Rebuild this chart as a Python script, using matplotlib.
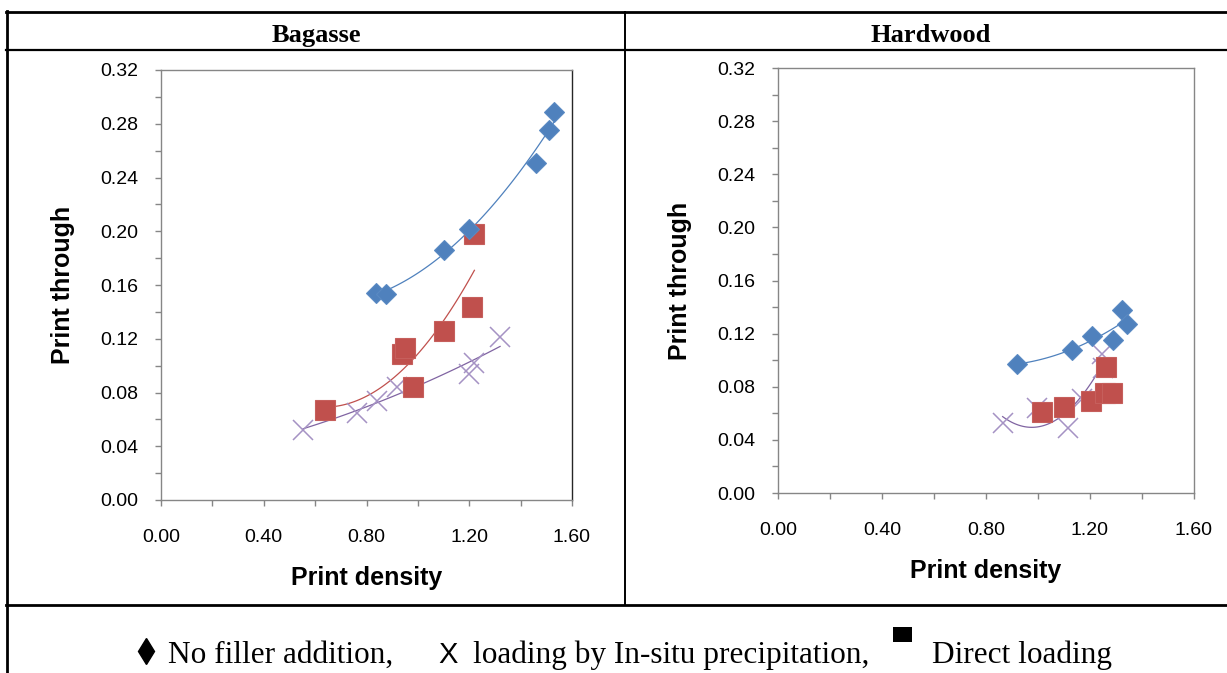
import matplotlib
matplotlib.use("Agg")
import matplotlib.pyplot as plt
from matplotlib.lines import Line2D
from matplotlib.patches import Rectangle
from matplotlib.ticker import MultipleLocator, FormatStrFormatter
import numpy as np

W, H = 1227, 673

# ---- data ----
# Bagasse
bag_none_x = [0.837, 0.875, 1.10, 1.20, 1.46, 1.51, 1.53]
bag_none_y = [0.154, 0.153, 0.186, 0.202, 0.251, 0.275, 0.289]
bag_direct_x = [0.64, 0.94, 0.95, 0.98, 1.10, 1.21, 1.22]
bag_direct_y = [0.067, 0.109, 0.113, 0.084, 0.126, 0.144, 0.198]
bag_insitu_x = [0.553, 0.763, 0.84, 0.92, 1.20, 1.22, 1.32]
bag_insitu_y = [0.052, 0.065, 0.074, 0.084, 0.094, 0.102, 0.121]

# Hardwood
hw_none_x = [0.919, 1.131, 1.208, 1.288, 1.323, 1.342]
hw_none_y = [0.097, 0.108, 0.118, 0.115, 0.138, 0.127]
hw_direct_x = [1.015, 1.10, 1.205, 1.256, 1.283, 1.263]
hw_direct_y = [0.061, 0.065, 0.069, 0.075, 0.075, 0.095]
hw_insitu_x = [0.864, 0.996, 1.115, 1.17, 1.25, 1.245]
hw_insitu_y = [0.053, 0.064, 0.049, 0.071, 0.094, 0.105]

blue = '#4F81BD'
red = '#C0504D'
purple = '#8064A2'

plt.rcParams['font.family'] = ['Liberation Sans', 'DejaVu Sans']

fig = plt.figure(figsize=(W / 100, H / 100), dpi=100)
fig.patch.set_facecolor('white')


def px_axes(x0, x1, y0, y1):
    return fig.add_axes([x0 / W, (H - y1) / H, (x1 - x0) / W, (y1 - y0) / H])


def trend(ax, x, y, color):
    c = np.polyfit(x, y, 2)
    xs = np.linspace(min(x), max(x), 100)
    ax.plot(xs, np.polyval(c, xs), color=color, lw=0.9, zorder=2)


def style(ax, right_col):
    ax.set_xlim(0, 1.6)
    ax.set_ylim(0, 0.32)
    ax.xaxis.set_major_locator(MultipleLocator(0.4))
    ax.xaxis.set_minor_locator(MultipleLocator(0.2))
    ax.yaxis.set_major_locator(MultipleLocator(0.04))
    ax.yaxis.set_minor_locator(MultipleLocator(0.02))
    ax.xaxis.set_major_formatter(FormatStrFormatter('%.2f'))
    ax.yaxis.set_major_formatter(FormatStrFormatter('%.2f'))
    for s in ['left', 'bottom', 'top']:
        ax.spines[s].set_color('#868686')
    ax.spines['right'].set_color(right_col)
    for s in ax.spines.values():
        s.set_linewidth(1.0)
    ax.tick_params(which='both', direction='out', length=4.5, width=1,
                   color='#868686', labelsize=14, top=False, right=False)
    ax.tick_params(axis='y', pad=12)
    ax.tick_params(axis='x', pad=16.5)
    ax.set_xlabel('Print density', fontsize=18, fontweight='bold', labelpad=14)
    ax.set_ylabel('Print through', fontsize=18, fontweight='bold', labelpad=18)


def draw(ax, nx, ny, dx, dy, ix, iy, trends):
    for x, y, col in trends:
        trend(ax, x, y, col)
    ax.plot(ix, iy, 'x', ms=14, mew=1.1, color='#A592C4', zorder=3)
    ax.plot(dx, dy, 's', ms=14, color=red, mec='#C65F5C', mew=0.8, zorder=4)
    ax.plot(nx, ny, 'D', ms=10, color=blue, mec='#5A8AC3', mew=0.8, zorder=5)


ax1 = px_axes(161, 572, 70, 500)
style(ax1, '#262626')
draw(ax1, bag_none_x, bag_none_y, bag_direct_x, bag_direct_y, bag_insitu_x, bag_insitu_y,
     [(bag_none_x, bag_none_y, blue), (bag_direct_x, bag_direct_y, red),
      (bag_insitu_x, bag_insitu_y, purple)])

ax2 = px_axes(778, 1194, 68, 493)
style(ax2, '#868686')
draw(ax2, hw_none_x, hw_none_y, hw_direct_x, hw_direct_y, hw_insitu_x, hw_insitu_y,
     [(hw_none_x, hw_none_y, blue), (hw_insitu_x, hw_insitu_y, purple)])


# ---- table frame ----
def hline(y, x0, x1, lw=2.0):
    fig.add_artist(Line2D([x0 / W, x1 / W], [1 - y / H, 1 - y / H], color='black', lw=lw))


def vline(x, y0, y1, lw=2.0):
    fig.add_artist(Line2D([x / W, x / W], [1 - y0 / H, 1 - y1 / H], color='black', lw=lw))


hline(12, 6, W)
hline(50, 6, W, lw=1.6)
hline(605, 6, W)
vline(7, 11, H)
vline(625, 12, 605, lw=1.4)

serif = ['Liberation Serif', 'DejaVu Serif']
fig.text(316 / W, 1 - 42 / H, 'Bagasse', ha='center', va='baseline', fontsize=19,
         fontweight='bold', family=serif)
fig.text(931 / W, 1 - 42 / H, 'Hardwood', ha='center', va='baseline', fontsize=19,
         fontweight='bold', family=serif)

# ---- legend row ----
base = 1 - 663 / H
fig.add_artist(Line2D([146 / W], [1 - 651 / H], marker='d', ms=13, color='black', lw=0))
fig.text(168 / W, base, 'No filler addition,', ha='left', va='baseline', fontsize=22.5,
         family=serif)
fig.text(448 / W, base, 'X', ha='center', va='baseline', fontsize=21,
         family=['Liberation Sans'])
fig.text(473 / W, base, 'loading by In-situ precipitation,', ha='left', va='baseline',
         fontsize=22.5, family=serif)
fig.add_artist(Rectangle((893 / W, 1 - 642 / H), 19 / W, 15 / H, color='black', lw=0))
fig.text(932 / W, base, 'Direct loading', ha='left', va='baseline', fontsize=22.5,
         family=serif)

fig.savefig('out.png', dpi=100)
